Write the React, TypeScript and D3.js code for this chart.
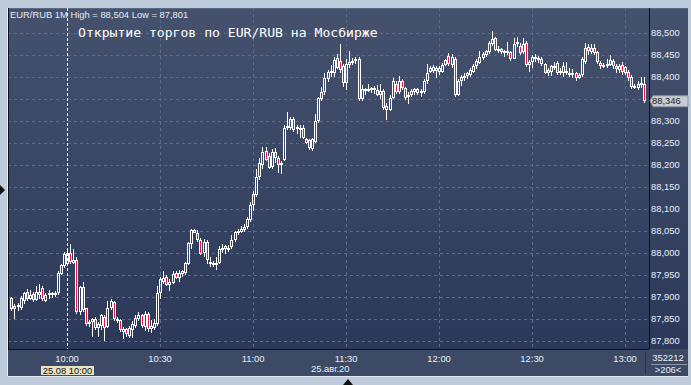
import React from 'react';
import * as d3 from 'd3';

// one-minute EUR/RUB candles, 09:42 .. 13:06
const opens = [
  87.897, 87.872, 87.878, 87.874, 87.890, 87.912, 87.895, 87.907, 87.893, 87.905,
  87.920, 87.892, 87.905, 87.908, 87.905, 87.908, 87.952, 87.970, 87.975, 88.000,
  87.978, 87.985, 87.866, 87.922, 87.874, 87.838, 87.843, 87.850, 87.830, 87.835,
  87.855, 87.832, 87.874, 87.888, 87.850, 87.848, 87.820, 87.828, 87.812, 87.826,
  87.835, 87.850, 87.858, 87.832, 87.862, 87.828, 87.830, 87.838, 87.910, 87.935,
  87.945, 87.928, 87.932, 87.954, 87.943, 87.953, 87.955, 87.975, 88.020, 88.053,
  88.046, 88.030, 88.000, 88.025, 87.980, 87.978, 87.975, 87.978, 88.010, 88.016,
  88.008, 88.013, 88.030, 88.045, 88.048, 88.052, 88.060, 88.075, 88.108, 88.132,
  88.172, 88.200, 88.232, 88.220, 88.195, 88.230, 88.215, 88.200, 88.212, 88.284,
  88.285, 88.305, 88.282, 88.280, 88.284, 88.258, 88.256, 88.236, 88.252, 88.300,
  88.350, 88.365, 88.395, 88.410, 88.408, 88.444, 88.436, 88.424, 88.386, 88.428,
  88.434, 88.436, 88.440, 88.350, 88.370, 88.370, 88.372, 88.376, 88.370, 88.360,
  88.368, 88.334, 88.326, 88.352, 88.385, 88.366, 88.390, 88.375, 88.354, 88.358,
  88.366, 88.372, 88.363, 88.366, 88.390, 88.412, 88.422, 88.414, 88.420, 88.412,
  88.428, 88.448, 88.428, 88.440, 88.360, 88.390, 88.398, 88.402, 88.405, 88.412,
  88.424, 88.432, 88.443, 88.450, 88.456, 88.476, 88.488, 88.460, 88.463, 88.455,
  88.460, 88.456, 88.442, 88.474, 88.470, 88.456, 88.478, 88.428, 88.433, 88.446,
  88.440, 88.442, 88.430, 88.410, 88.412, 88.425, 88.410, 88.414, 88.410, 88.412,
  88.410, 88.406, 88.408, 88.397, 88.404, 88.435, 88.468, 88.466, 88.465, 88.456,
  88.432, 88.424, 88.426, 88.428, 88.436, 88.425, 88.417, 88.428, 88.422, 88.412,
  88.400, 88.380, 88.376, 88.384, 88.385,
];

const highs = [
  87.900, 87.884, 87.886, 87.902, 87.912, 87.918, 87.915, 87.912, 87.925, 87.930,
  87.925, 87.910, 87.915, 87.912, 87.914, 87.958, 87.975, 88.002, 88.010, 88.020,
  88.010, 87.990, 87.926, 87.935, 87.876, 87.848, 87.852, 87.855, 87.843, 87.862,
  87.860, 87.890, 87.895, 87.892, 87.855, 87.850, 87.832, 87.830, 87.835, 87.845,
  87.858, 87.866, 87.862, 87.868, 87.866, 87.848, 87.850, 87.925, 87.945, 87.958,
  87.950, 87.940, 87.958, 87.960, 87.962, 87.962, 87.980, 88.025, 88.055, 88.055,
  88.052, 88.035, 88.032, 88.030, 87.990, 87.982, 87.990, 88.015, 88.020, 88.018,
  88.018, 88.040, 88.050, 88.055, 88.062, 88.067, 88.082, 88.115, 88.140, 88.190,
  88.215, 88.240, 88.240, 88.228, 88.237, 88.238, 88.220, 88.210, 88.290, 88.320,
  88.310, 88.310, 88.292, 88.290, 88.290, 88.262, 88.258, 88.262, 88.315, 88.355,
  88.378, 88.410, 88.415, 88.427, 88.445, 88.452, 88.476, 88.430, 88.440, 88.460,
  88.444, 88.445, 88.445, 88.382, 88.376, 88.383, 88.378, 88.380, 88.382, 88.385,
  88.372, 88.340, 88.360, 88.397, 88.390, 88.402, 88.395, 88.378, 88.365, 88.372,
  88.376, 88.375, 88.372, 88.396, 88.430, 88.425, 88.428, 88.424, 88.425, 88.432,
  88.442, 88.455, 88.452, 88.445, 88.396, 88.405, 88.408, 88.412, 88.420, 88.430,
  88.440, 88.458, 88.456, 88.462, 88.482, 88.504, 88.492, 88.470, 88.466, 88.462,
  88.480, 88.460, 88.488, 88.492, 88.478, 88.488, 88.482, 88.438, 88.450, 88.452,
  88.448, 88.446, 88.432, 88.420, 88.428, 88.435, 88.436, 88.420, 88.435, 88.435,
  88.420, 88.418, 88.412, 88.410, 88.445, 88.478, 88.475, 88.475, 88.474, 88.460,
  88.436, 88.432, 88.440, 88.450, 88.440, 88.430, 88.430, 88.435, 88.425, 88.416,
  88.405, 88.385, 88.390, 88.400, 88.400,
];

const lows = [
  87.868, 87.850, 87.868, 87.870, 87.885, 87.890, 87.893, 87.888, 87.890, 87.895,
  87.890, 87.888, 87.895, 87.898, 87.900, 87.905, 87.950, 87.965, 87.970, 87.975,
  87.976, 87.862, 87.860, 87.866, 87.834, 87.832, 87.810, 87.825, 87.810, 87.825,
  87.801, 87.830, 87.870, 87.846, 87.842, 87.820, 87.805, 87.808, 87.806, 87.807,
  87.830, 87.845, 87.830, 87.822, 87.820, 87.818, 87.826, 87.835, 87.895, 87.930,
  87.925, 87.913, 87.930, 87.940, 87.934, 87.945, 87.950, 87.972, 88.010, 88.045,
  88.025, 87.995, 87.990, 87.975, 87.968, 87.968, 87.962, 87.976, 88.000, 87.998,
  88.003, 88.010, 88.025, 88.040, 88.045, 88.048, 88.055, 88.070, 88.095, 88.128,
  88.165, 88.190, 88.210, 88.190, 88.190, 88.205, 88.182, 88.180, 88.210, 88.280,
  88.280, 88.275, 88.270, 88.262, 88.258, 88.247, 88.235, 88.232, 88.250, 88.295,
  88.345, 88.360, 88.388, 88.400, 88.400, 88.418, 88.410, 88.378, 88.370, 88.420,
  88.428, 88.430, 88.346, 88.345, 88.360, 88.365, 88.364, 88.362, 88.357, 88.350,
  88.326, 88.303, 88.322, 88.350, 88.362, 88.362, 88.370, 88.348, 88.338, 88.355,
  88.360, 88.358, 88.355, 88.362, 88.385, 88.408, 88.410, 88.398, 88.405, 88.408,
  88.425, 88.426, 88.420, 88.355, 88.357, 88.380, 88.390, 88.396, 88.400, 88.408,
  88.418, 88.430, 88.438, 88.445, 88.452, 88.470, 88.458, 88.455, 88.452, 88.446,
  88.450, 88.437, 88.440, 88.468, 88.450, 88.452, 88.422, 88.412, 88.420, 88.435,
  88.432, 88.425, 88.406, 88.402, 88.403, 88.415, 88.405, 88.405, 88.400, 88.405,
  88.400, 88.398, 88.390, 88.395, 88.400, 88.430, 88.450, 88.452, 88.450, 88.430,
  88.418, 88.420, 88.420, 88.424, 88.418, 88.410, 88.408, 88.405, 88.405, 88.392,
  88.372, 88.372, 88.370, 88.375, 88.340,
];

const closes = [
  87.872, 87.880, 87.882, 87.898, 87.909, 87.895, 87.905, 87.893, 87.912, 87.912,
  87.895, 87.905, 87.908, 87.904, 87.909, 87.954, 87.972, 87.998, 88.000, 87.980,
  87.985, 87.866, 87.922, 87.870, 87.838, 87.843, 87.850, 87.830, 87.838, 87.858,
  87.830, 87.875, 87.890, 87.850, 87.846, 87.826, 87.828, 87.815, 87.830, 87.838,
  87.852, 87.858, 87.834, 87.862, 87.828, 87.834, 87.842, 87.910, 87.940, 87.944,
  87.928, 87.935, 87.953, 87.943, 87.955, 87.958, 87.977, 88.022, 88.052, 88.046,
  88.030, 87.998, 88.025, 87.985, 87.975, 87.976, 87.978, 88.010, 88.012, 88.010,
  88.012, 88.030, 88.047, 88.050, 88.055, 88.060, 88.077, 88.110, 88.135, 88.172,
  88.205, 88.230, 88.212, 88.193, 88.230, 88.215, 88.200, 88.205, 88.284, 88.288,
  88.305, 88.280, 88.286, 88.285, 88.262, 88.250, 88.238, 88.258, 88.300, 88.352,
  88.367, 88.397, 88.412, 88.413, 88.438, 88.420, 88.416, 88.386, 88.430, 88.435,
  88.437, 88.440, 88.350, 88.372, 88.372, 88.373, 88.376, 88.370, 88.360, 88.368,
  88.330, 88.326, 88.352, 88.390, 88.366, 88.390, 88.375, 88.352, 88.360, 88.368,
  88.372, 88.363, 88.368, 88.392, 88.410, 88.420, 88.414, 88.420, 88.412, 88.428,
  88.438, 88.430, 88.446, 88.360, 88.392, 88.400, 88.403, 88.408, 88.415, 88.425,
  88.436, 88.445, 88.452, 88.458, 88.478, 88.486, 88.462, 88.463, 88.456, 88.458,
  88.455, 88.440, 88.476, 88.480, 88.455, 88.474, 88.428, 88.434, 88.446, 88.440,
  88.443, 88.430, 88.410, 88.415, 88.424, 88.420, 88.432, 88.410, 88.424, 88.414,
  88.405, 88.410, 88.398, 88.405, 88.440, 88.465, 88.458, 88.456, 88.455, 88.435,
  88.424, 88.428, 88.430, 88.438, 88.424, 88.418, 88.424, 88.412, 88.410, 88.398,
  88.378, 88.378, 88.385, 88.386, 88.346,
];

const priceTicks = [
  87.8, 87.85, 87.9, 87.95, 88.0, 88.05, 88.1, 88.15,
  88.2, 88.25, 88.3, 88.35, 88.4, 88.45, 88.5,
];
const timeTicks = ['10:00', '10:30', '11:00', '11:30', '12:00', '12:30', '13:00'];
const sessionDay = '2020-08-25';
const firstBar = '09:42';
const cursorTime = '10:00';
const lastPrice = 88.346;

const headerText = 'EUR/RUB 1M High = 88,504 Low = 87,801';
const titleText = 'Открытие торгов по EUR/RUB на Мосбирже';
const cursorLabel = '25.08 10:00';
const dateLabel = '25.авг.20';
const volumeLabel = '352212';
const barsLabel = '>206<';

const W = 691;
const H = 385;
const plot = { left: 8, top: 8, right: 649, bottom: 349 };
const panelRight = 688;
const panelBottom = 376;
const font = '"Liberation Sans", Arial, sans-serif';

const parse = d3.timeParse('%Y-%m-%d %H:%M');
const fmt = (v: number) => d3.format('.3f')(v).replace('.', ',');

export default function App() {
  const t0 = parse(`${sessionDay} ${firstBar}`) as Date;
  const times = closes.map((_, i) => d3.timeMinute.offset(t0, i));

  const x = d3.scaleTime()
    .domain([times[0], times[times.length - 1]])
    .range([11.3, 643.7]);
  const y = d3.scaleLinear().domain([87.8, 88.5]).range([341, 33]);
  const tx = (t: string) => x(parse(`${sessionDay} ${t}`) as Date);

  const red = '#e3163d';
  const grid = '#5b6a8a';

  const candles = closes.map((c, i) => {
    const o = opens[i];
    const cx = Math.round(x(times[i]));
    const left = cx - 1;
    let top = Math.round(y(Math.max(o, c)));
    let bot = Math.round(y(Math.min(o, c)));
    if (bot - top < 2) bot = top + 2;
    const hi = Math.round(y(highs[i]));
    const lo = Math.round(y(lows[i]));
    const down = c < o;
    return (
      <g key={i}>
        {hi < top && <line x1={left + 1.5} x2={left + 1.5} y1={hi} y2={top} stroke="#fff" />}
        {lo > bot && <line x1={left + 1.5} x2={left + 1.5} y1={bot} y2={lo} stroke="#fff" />}
        <rect
          x={left + 0.5}
          y={top + 0.5}
          width={2}
          height={bot - top - 1}
          fill={down ? red : 'none'}
          stroke="#fff"
          strokeWidth={1}
        />
      </g>
    );
  });

  const cursorX = Math.round(tx(cursorTime)) + 0.5;
  const lastY = y(lastPrice);
  // the last-price tag hides the scale label it sits on
  const axisTicks = priceTicks.filter(p => Math.abs(y(p) - lastY) > 9);

  return (
    <svg
      width={W}
      height={H}
      style={{ position: 'absolute', left: 0, top: 0, display: 'block' }}
      shapeRendering="crispEdges"
    >
      <defs>
        <linearGradient id="bg" x1="0" y1="0" x2="0" y2="1">
          <stop offset="0%" stopColor="#45526e" />
          <stop offset="100%" stopColor="#2c3859" />
        </linearGradient>
      </defs>

      <rect width={W} height={H} fill="#bdcbdb" />
      <rect x={plot.left} y={plot.top} width={panelRight - plot.left} height={plot.bottom - plot.top} fill="url(#bg)" />
      <rect x={plot.left} y={plot.bottom} width={panelRight - plot.left} height={panelBottom - plot.bottom} fill="#3d4a66" />
      <line x1={plot.left} x2={panelRight} y1={panelBottom + 0.5} y2={panelBottom + 0.5} stroke="#e4ebf3" />
      <line x1={plot.left - 0.5} x2={plot.left - 0.5} y1={plot.top} y2={panelBottom} stroke="#e4ebf3" />
      <line x1={plot.left} x2={panelRight} y1={plot.top + 0.5} y2={plot.top + 0.5} stroke="#5a6884" />

      {/* grid */}
      {priceTicks.map(p => (
        <line key={p} x1={plot.left} x2={plot.right} y1={Math.round(y(p)) + 0.5} y2={Math.round(y(p)) + 0.5}
          stroke={grid} strokeDasharray="3,3" />
      ))}
      {timeTicks.slice(1).map(t => (
        <line key={t} x1={Math.round(tx(t)) + 0.5} x2={Math.round(tx(t)) + 0.5} y1={plot.top} y2={plot.bottom}
          stroke={grid} strokeDasharray="3,3" />
      ))}

      <line x1={cursorX} x2={cursorX} y1={plot.top} y2={plot.bottom} stroke="#f4f6fa" strokeDasharray="3,2" />

      {candles}

      {/* frame lines */}
      <line x1={plot.left + 0.5} x2={plot.left + 0.5} y1={plot.top} y2={plot.bottom} stroke="#0c1018" />
      <line x1={plot.left} x2={plot.right} y1={plot.bottom + 0.5} y2={plot.bottom + 0.5} stroke="#0c1018" />
      <line x1={plot.right + 0.5} x2={plot.right + 0.5} y1={plot.top} y2={plot.bottom} stroke="#0c1018" />
      <line x1={645.5} x2={645.5} y1={352} y2={374} stroke="#2a3550" />

      <text x={10} y={18} fill="#e6ebf2" fontFamily={font} fontSize={9.4}>{headerText}</text>
      <text x={78} y={37} fill="#ffffff" fontFamily='"DejaVu Sans Mono", monospace' fontSize={13.1}>{titleText}</text>

      {/* price axis */}
      {axisTicks.map(p => (
        <text key={p} x={651} y={y(p)} dy="0.36em" fill="#e8eef8" fontFamily={font} fontSize={9.4}>
          {fmt(p)}
        </text>
      ))}
      <path
        d={`M${plot.right + 1},${lastY} L${plot.right + 4},${lastY - 5} L${panelRight},${lastY - 5} L${panelRight},${lastY + 6} L${plot.right + 4},${lastY + 6} Z`}
        fill="#c9cdd3" stroke="#8d939c" shapeRendering="auto"
      />
      <text x={652} y={lastY} dy="0.36em" fill="#1a1a1a" fontFamily={font} fontSize={9.4}>{fmt(lastPrice)}</text>

      {/* time axis */}
      {timeTicks.map(t => (
        <text key={t} x={tx(t)} y={362} textAnchor="middle" fill="#e8eef8" fontFamily={font} fontSize={9.4}>{t}</text>
      ))}
      <rect x={41} y={366} width={53} height={9} fill="#e6e2c6" />
      <text x={67.5} y={374} textAnchor="middle" fill="#111" fontFamily={font} fontSize={9.4}>{cursorLabel}</text>
      <text x={311} y={372} fill="#e8eef8" fontFamily={font} fontSize={9.4}>{dateLabel}</text>

      <text x={668} y={361} textAnchor="middle" fill="#e8eef8" fontFamily={font} fontSize={9.4}>{volumeLabel}</text>
      <line x1={651} x2={687} y1={364.5} y2={364.5} stroke="#8b97ad" />
      <text x={668} y={373} textAnchor="middle" fill="#e8eef8" fontFamily={font} fontSize={9.4}>{barsLabel}</text>

      {/* pane markers */}
      <path d="M0,185 L5,190 L0,195 Z" fill="#111" shapeRendering="auto" />
      <path d="M343,385 L348,379 L353,385 Z" fill="#111" shapeRendering="auto" />
    </svg>
  );
}
